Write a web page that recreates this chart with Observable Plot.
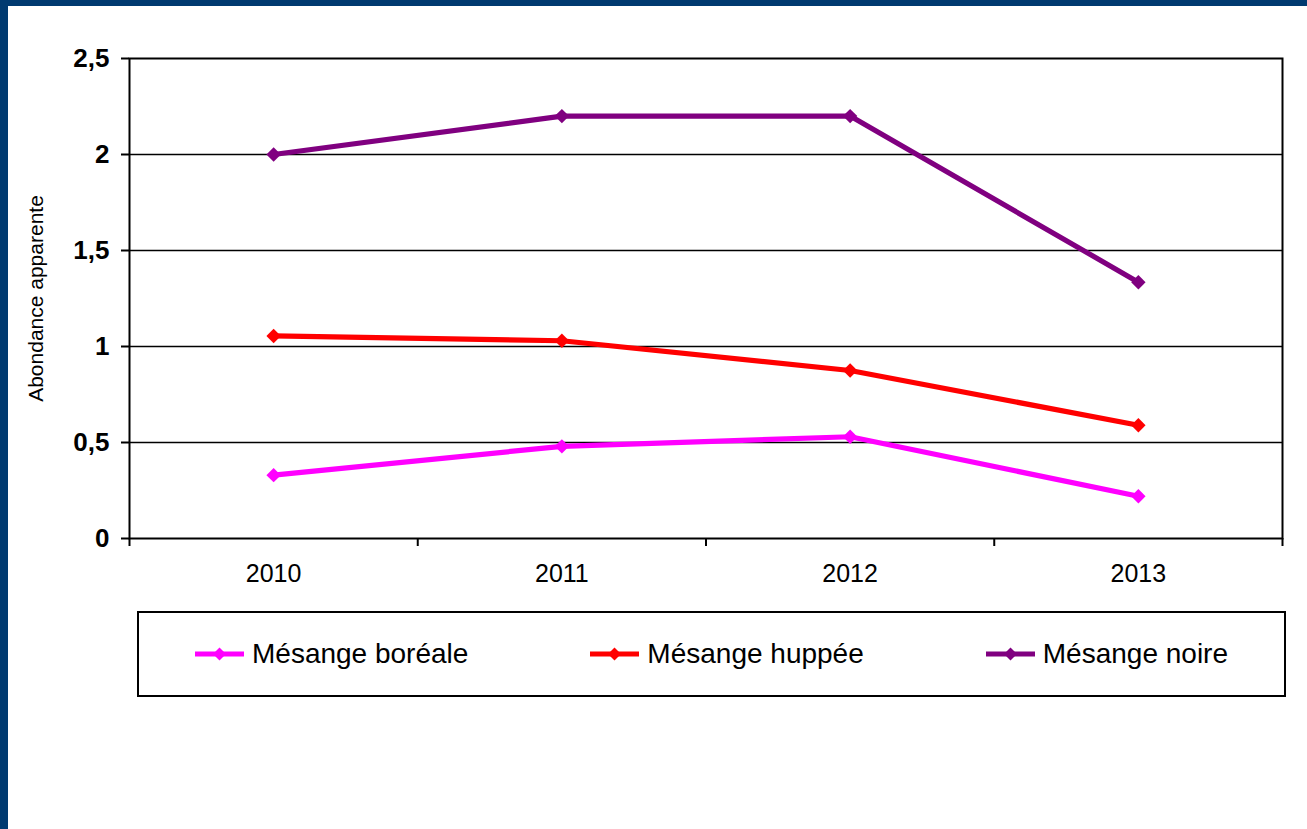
<!DOCTYPE html>
<html>
<head>
<meta charset="utf-8">
<script src="https://cdn.jsdelivr.net/npm/d3@7"></script>
<script src="https://cdn.jsdelivr.net/npm/@observablehq/plot@0.6"></script>
<style>
  html, body { margin: 0; padding: 0; background: #fff; }
  #page { position: relative; width: 1307px; height: 829px; overflow: hidden; background: #fff;
          font-family: "Liberation Sans", Arial, sans-serif; }
  #border { position: absolute; left: 0; top: 0; width: 1307px; height: 829px; box-sizing: border-box;
            border-top: 6px solid #003A70; border-left: 8px solid #003A70; }
  #chart { position: absolute; left: 0; top: 0; }
  #legend { position: absolute; left: 137px; top: 611px; width: 1149px; height: 86px; box-sizing: border-box;
            border: 2px solid #000; display: flex; align-items: center; justify-content: center; gap: 122px; }
  .item { display: flex; align-items: center; gap: 8px; font-size: 28px; color: #000; line-height: 1; }
  .item svg { display: block; }
</style>
</head>
<body>
<div id="page">
  <div id="border"></div>
  <div id="chart"></div>
  <div id="legend"></div>
</div>
<script>
const years = [2010, 2011, 2012, 2013];
const boreale = [0.33, 0.48, 0.53, 0.22];
const huppee = [1.055, 1.03, 0.875, 0.59];
const noire = [2.0, 2.2, 2.2, 1.335];
const seriesNames = ["Mésange boréale", "Mésange huppée", "Mésange noire"];
const seriesColors = ["#FF00FF", "#FF0000", "#800080"];
const yTicks = [0, 0.5, 1, 1.5, 2, 2.5];
const yTitle = "Abondance apparente";

const seriesValues = [boreale, huppee, noire];
const data = [];
seriesNames.forEach((name, i) => {
  years.forEach((yr, j) => data.push({series: name, year: yr, value: seriesValues[i][j]}));
});
const boundaries = [years[0] - 0.5, ...years.map(y => y + 0.5)];

const chart = Plot.plot({
  width: 1307,
  height: 600,
  marginLeft: 129,
  marginRight: 25,
  marginTop: 58,
  marginBottom: 62,
  style: {fontFamily: "'Liberation Sans', Arial, sans-serif", background: "transparent", color: "#000", overflow: "visible"},
  x: {type: "linear", domain: [boundaries[0], boundaries[boundaries.length - 1]]},
  y: {domain: [yTicks[0], yTicks[yTicks.length - 1]]},
  color: {domain: seriesNames, range: seriesColors},
  marks: [
    Plot.ruleY(yTicks.slice(1, -1), {stroke: "#000", strokeWidth: 1.4}),
    Plot.frame({stroke: "#000", strokeWidth: 2}),
    Plot.axisY({ticks: yTicks, tickFormat: d => String(d).replace(".", ","), tickSize: 8, tickPadding: 12,
                fontSize: 26, fontWeight: "bold", label: null, strokeWidth: 2}),
    Plot.axisX({ticks: boundaries, tickFormat: () => "", tickSize: 8, strokeWidth: 2, label: null}),
    Plot.axisX({ticks: years, tickFormat: d => String(d), tickSize: 0, tickPadding: 26, fontSize: 25, label: null}),
    Plot.text([yTitle], {frameAnchor: "left", textAnchor: "middle", dx: -93, rotate: -90, fontSize: 21, fill: "#000"}),
    Plot.line(data, {x: "year", y: "value", z: "series", stroke: "series", strokeWidth: 5.2}),
    Plot.dot(data, {x: "year", y: "value", fill: "series", symbol: "diamond2", r: 6.5, stroke: "none"})
  ]
});
document.getElementById("chart").appendChild(chart);

// enlarge tick labels (axis font options)
d3.select(chart).selectAll('g[aria-label="y-axis tick label"]').attr("font-size", 26).attr("font-weight", "bold");
d3.select(chart).selectAll('g[aria-label="x-axis tick label"]').attr("font-size", 25);

// legend
const legend = d3.select("#legend");
seriesNames.forEach((name, i) => {
  const item = legend.append("div").attr("class", "item");
  const sw = item.append("svg").attr("width", 49).attr("height", 16);
  sw.append("line").attr("x1", 0).attr("x2", 49).attr("y1", 8).attr("y2", 8)
    .attr("stroke", seriesColors[i]).attr("stroke-width", 5);
  sw.append("path").attr("d", "M24.5,1.5 L31,8 L24.5,14.5 L18,8 Z").attr("fill", seriesColors[i]);
  item.append("span").text(name);
});
</script>
</body>
</html>
